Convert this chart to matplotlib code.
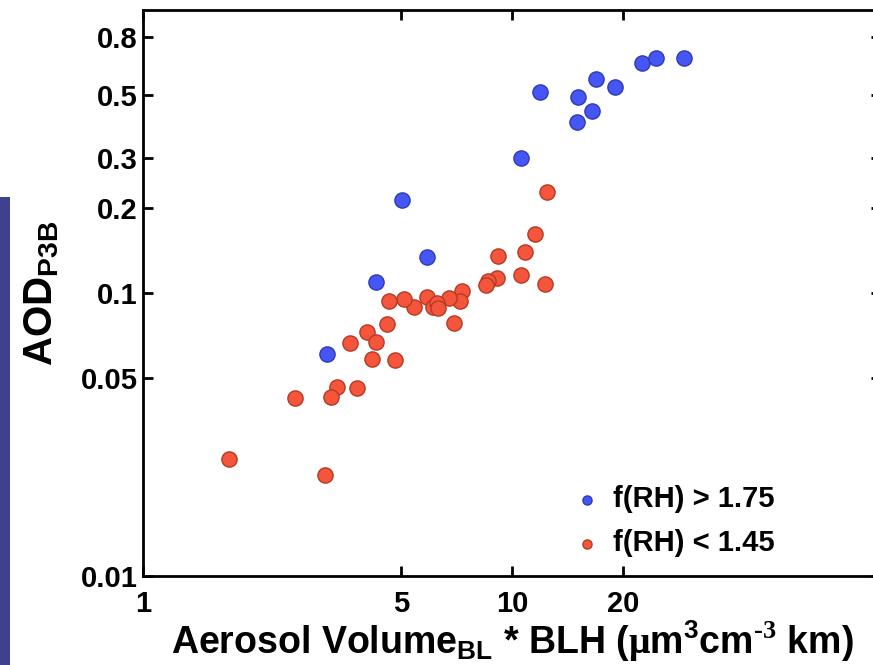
import numpy as np
import matplotlib
matplotlib.use("Agg")
import matplotlib.pyplot as plt
from matplotlib.patches import Rectangle

# values
blue_x = [11.9, 15.1, 15.0, 16.5, 16.9, 19.0, 22.5, 24.6, 29.3, 10.6, 5.03, 5.88, 4.28, 3.15]
blue_y = [0.513, 0.493, 0.402, 0.440, 0.570, 0.534, 0.650, 0.677, 0.677, 0.300, 0.213, 0.134, 0.109, 0.0609]

red_x = [12.44, 11.54, 10.85, 9.17, 9.11, 8.61, 8.50, 10.58, 12.29, 7.32, 7.23, 6.75,
         5.88, 6.11, 6.26, 6.30, 5.42, 5.10, 4.64, 6.96, 4.58, 4.05, 4.28, 3.64,
         4.17, 4.82, 3.36, 3.23, 3.80, 2.58, 1.71, 3.11]
red_y = [0.2275, 0.1616, 0.1396, 0.1351, 0.1130, 0.1102, 0.1067, 0.1158, 0.1076, 0.1016, 0.0937, 0.0960,
         0.0968, 0.0893, 0.0922, 0.0885, 0.0893, 0.0952, 0.0937, 0.0783, 0.0777, 0.0728, 0.0671, 0.0666,
         0.0584, 0.0580, 0.0465, 0.0429, 0.0462, 0.0426, 0.0259, 0.0228]

x_ticks = [1, 5, 10, 20]
y_ticks = [0.01, 0.05, 0.1, 0.2, 0.3, 0.5, 0.8]
y_tick_labels = ["0.01", "0.05", "0.1", "0.2", "0.3", "0.5", "0.8"]

plt.rcParams['font.family'] = ['Liberation Sans', 'DejaVu Sans']
plt.rcParams['font.weight'] = 'bold'
plt.rcParams['mathtext.fontset'] = 'custom'
plt.rcParams['mathtext.bf'] = 'Liberation Sans:bold'
plt.rcParams['mathtext.rm'] = 'Liberation Serif'
plt.rcParams['mathtext.it'] = 'Liberation Sans:bold'
plt.rcParams['mathtext.default'] = 'bf'

fig = plt.figure(figsize=(8.73, 6.65), dpi=100)
ax = fig.add_axes([0.1638, 0.1338, 0.8454, 0.8511])

ax.scatter(red_x, red_y, s=120, c='#f5553a', edgecolors='#b53a26', linewidths=1.0,
           label='f(RH) < 1.45', zorder=3)
ax.scatter(blue_x, blue_y, s=120, c='#4656f4', edgecolors='#2f3bb5', linewidths=1.0,
           label='f(RH) > 1.75', zorder=3)

ax.set_xscale('log')
ax.set_yscale('log')
ax.set_xlim(1, 100)
ax.set_ylim(0.01, 1)
ax.minorticks_off()
ax.set_xticks(x_ticks)
ax.set_xticklabels([str(t) for t in x_ticks])
ax.set_yticks(y_ticks)
ax.set_yticklabels(y_tick_labels)
ax.tick_params(direction='in', length=7, width=2, top=True, right=True, labelsize=21)
ax.tick_params(axis='x', pad=10)
ax.tick_params(axis='y', pad=4)
for sp in ax.spines.values():
    sp.set_linewidth(2)

ax.set_xlabel(r'Aerosol Volume$_{BL}$ * BLH ($\mathrm{\mu}$m$^{3}$cm$^{\text{-3}}$ km)', fontsize=27,
              fontweight='bold', labelpad=0)
ax.set_ylabel(r'AOD$_{P3B}$', fontsize=29, fontweight='bold', labelpad=14)

handles, labels = ax.get_legend_handles_labels()
ax.legend(handles[::-1], labels[::-1], loc='upper left', bbox_to_anchor=(0.558, 0.186),
          frameon=False, fontsize=21, markerscale=0.6, handletextpad=0.3,
          borderpad=0, labelspacing=0.55, handlelength=1.2)

# strip of the slide background visible at the left edge
fig.patches.append(Rectangle((0, 0), 10 / 873, (665 - 197) / 665, transform=fig.transFigure,
                             facecolor='#3f418d', edgecolor='none', hatch='xxxx'))

fig.savefig('out.png', dpi=100)
